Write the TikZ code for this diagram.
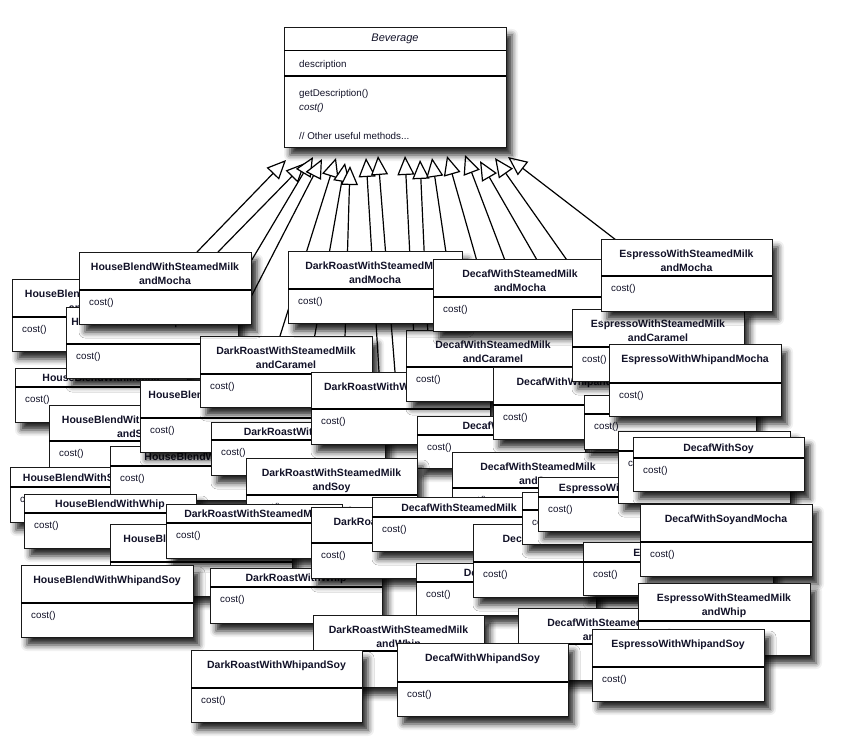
\documentclass[tikz,border=0pt]{standalone}
\usepackage{fontspec}
\setmainfont{Liberation Sans}
\usetikzlibrary{arrows.meta,shadows.blur,calc}

\definecolor{ink}{RGB}{18,18,40}
\definecolor{edge}{RGB}{25,25,25}

\pgfdeclarelayer{bg}
\pgfdeclarelayer{wires}
\pgfsetlayers{bg,wires,main}

\tikzset{
  softshadow/.style={blur shadow={shadow xshift=6pt, shadow yshift=-8pt,
    shadow blur radius=6pt, shadow opacity=85}},
  cls/.style={rectangle, draw=edge, line width=0.9pt, fill=white, anchor=north west,
    inner sep=0pt, outer sep=0pt, softshadow},
  divline/.style={draw=black, line width=1.4pt},
  ttl/.style={font=\fontsize{10.5}{14}\selectfont\bfseries, text=ink, align=center,
    inner sep=0pt, anchor=north},
  meth/.style={font=\fontsize{9.8}{12}\selectfont, text=ink, inner sep=0pt, anchor=west},
  inh/.style={line width=1.2pt, line join=miter,
    -{Triangle[length=19pt,width=17pt,fill=white]}},
}

% class box: name, x, y, width, height, header height, class name
\newcommand\umlbox[7]{%
  \node[cls, minimum width=#4pt, minimum height=#5pt] (#1) at (#2,#3) {};
  \draw[divline] ([yshift=-#6pt]#1.north west) -- ([yshift=-#6pt]#1.north east);
  \pgfmathsetmacro\ttloff{(#6<25) ? (#6/2-3.7) : 10.5}
  \node[ttl] (#1-title) at ([yshift=-\ttloff pt]#1.north) {#7};
  \node[meth] (#1-op) at ([xshift=10pt,yshift=-(#6+13)*1pt]#1.north west) {cost()};
}

\begin{document}
\begin{tikzpicture}[x=1pt,y=-1pt]
\useasboundingbox (0,0) rectangle (858,738);
\begin{pgfonlayer}{bg}
  \fill[white] (0,0) rectangle (858,738);
\end{pgfonlayer}
% a first shaded shape, placed off the page, sets up the shadow machinery
\node[cls, draw=none, fill=none, minimum width=4pt, minimum height=4pt] (warmup) at (-300,-300) {};

% subclasses, back to front
\umlbox{c5}{12}{279}{174}{72}{38}{HouseBlendWithSteamedMilk\\andCaramel}
\umlbox{c9}{15}{368}{172}{54}{19}{HouseBlendWithMocha}
\umlbox{c6}{66}{307}{172}{71}{37}{HouseBlendWithWhipandMocha}
\umlbox{c10}{49}{405}{174}{72}{36}{HouseBlendWithSteamedMilk\\andSoy}
\umlbox{c38}{10}{467}{174}{55}{20}{HouseBlendWithSteamedMilk}
\umlbox{c45}{110}{446}{172}{54}{20}{HouseBlendWithSoy}
\umlbox{c37}{24}{494}{172}{54}{19}{HouseBlendWithWhip}
\umlbox{c8}{140}{380}{172}{72}{38}{HouseBlendWithMochaandSoy}
\umlbox{c7}{200}{336}{172}{71}{38}{DarkRoastWithSteamedMilk\\andCaramel}
\umlbox{c11}{211}{422}{174}{53}{18}{DarkRoastWithMocha}
\umlbox{c12}{311}{372}{179}{72}{37}{DarkRoastWithWhipandMocha}
\umlbox{c13}{406}{330}{174}{71}{37}{DecafWithSteamedMilk\\andCaramel}
\umlbox{c20}{417}{416}{168}{52}{19}{DecafWithWhip}
\umlbox{c14}{493}{367}{176}{72}{38}{DecafWithWhipandMocha}
\umlbox{c21}{452}{452}{172}{72}{36}{DecafWithSteamedMilk\\andSoy}
\umlbox{c36}{110}{524}{182}{72}{38}{HouseBlendWithSoyandMocha}
\umlbox{c34}{246}{458}{171}{72}{37}{DarkRoastWithSteamedMilk\\andSoy}
\umlbox{c35}{166}{504}{176}{54}{19}{DarkRoastWithSteamedMilk}
\umlbox{c39}{21}{565}{172}{72}{38}{HouseBlendWithWhipandSoy}
\umlbox{c40}{210}{568}{172}{55}{19}{DarkRoastWithWhip}
\umlbox{c33}{311}{507}{184}{71}{36}{DarkRoastWithSoyandWhip}
\umlbox{c31}{372}{497}{174}{54}{20}{DecafWithSteamedMilk}
\umlbox{c29}{416}{563}{180}{52}{19}{DecafWithMocha}
\umlbox{c30}{473}{524}{174}{73}{38}{DecafWithSoyandWhip}
\umlbox{c32}{522}{492}{172}{52}{18}{DecafWithMochaandSoy}
\umlbox{c22}{538}{477}{176}{54}{20}{EspressoWithSteamedMilk}
\umlbox{c19}{584}{395}{172}{54}{19}{EspressoWithMocha}
\umlbox{c18}{618}{431}{172}{72}{20}{EspressoWithWhip}
\umlbox{c17}{633}{437}{171}{54}{21}{DecafWithSoy}
\umlbox{c23}{583}{542}{190}{53}{20}{EspressoWithSoy}
\umlbox{c24}{640}{504}{172}{72}{38}{DecafWithSoyandMocha}
\umlbox{c27}{518}{608}{174}{72}{36}{DecafWithSteamedMilk\\andWhip}
\umlbox{c25}{638}{583}{172}{72}{38}{EspressoWithSteamedMilk\\andWhip}
\umlbox{c26}{592}{629}{172}{72}{38}{EspressoWithWhipandSoy}
\umlbox{c41}{313}{615}{171}{72}{36}{DarkRoastWithSteamedMilk\\andWhip}
\umlbox{c42}{191}{650}{171}{72}{38}{DarkRoastWithWhipandSoy}
\umlbox{c43}{397}{643}{171}{73}{39}{DecafWithWhipandSoy}
\umlbox{c1}{79}{252}{172}{72}{38}{HouseBlendWithSteamedMilk\\andMocha}
\umlbox{c2}{288}{251}{174}{72}{38}{DarkRoastWithSteamedMilk\\andMocha}
\umlbox{c3}{433}{259}{174}{72}{38}{DecafWithSteamedMilk\\andMocha}
\umlbox{c15}{572}{309}{172}{72}{38}{EspressoWithSteamedMilk\\andCaramel}
\umlbox{c4}{601}{239}{171}{72}{37}{EspressoWithSteamedMilk\\andMocha}
\umlbox{c16}{609}{344}{172}{72}{39}{EspressoWithWhipandMocha}

% the abstract superclass
\node[cls, minimum width=222pt, minimum height=120pt] (bev) at (284,27) {};
\draw[line width=1pt] ([yshift=-24pt]bev.north west) -- ([yshift=-24pt]bev.north east);
\draw[line width=1.2pt] ([yshift=-49pt]bev.north west) -- ([yshift=-49pt]bev.north east);
\node[font=\fontsize{11}{13}\selectfont\itshape, text=ink, inner sep=0pt] (bev-title) at ([yshift=-11.5pt]bev.north) {Beverage};
\node[meth] (bev-attr) at ([xshift=15pt,yshift=-38pt]bev.north west) {description};
\node[meth] (bev-m1) at ([xshift=15pt,yshift=-67pt]bev.north west) {getDescription()};
\node[meth, font=\fontsize{9.8}{12}\selectfont\itshape] (bev-m2) at ([xshift=15pt,yshift=-81pt]bev.north west) {cost()};
\node[meth] (bev-m3) at ([xshift=15pt,yshift=-109pt]bev.north west) {// Other useful methods...};

% inheritance arrows, kept behind the boxes
\begin{pgfonlayer}{wires}
\draw[inh] ([xshift=118pt]c1.north west) -- ([xshift=2pt,yshift=-13pt]bev.south west);
\draw[inh] ([xshift=139pt]c1.north west) -- ([xshift=21pt,yshift=-16pt]bev.south west);
\draw[inh] ([xshift=149pt,yshift=-48pt]c1.north west) -- ([xshift=29pt,yshift=-10pt]bev.south west);
\draw[inh] ([xshift=168pt,yshift=-23pt]c6.north west) -- ([xshift=38pt,yshift=-12pt]bev.south west);
\draw[inh] ([xshift=80pt]c7.north west) -- ([xshift=52pt,yshift=-11pt]bev.south west);
\draw[inh] ([xshift=107pt,yshift=-44pt]c7.north west) -- ([xshift=61pt,yshift=-16pt]bev.south west);
\draw[inh] ([xshift=33pt]c12.north west) -- ([xshift=66pt,yshift=-19pt]bev.south west);
\draw[inh] ([xshift=68pt]c12.north west) -- ([xshift=82pt,yshift=-11pt]bev.south west);
\draw[inh] ([xshift=84pt]c12.north west) -- ([xshift=94pt,yshift=-9pt]bev.south west);
\draw[inh] ([xshift=10pt,yshift=-50pt]c13.north west) -- ([xshift=121pt,yshift=-9pt]bev.south west);
\draw[inh] ([xshift=24pt,yshift=-50pt]c13.north west) -- ([xshift=136pt,yshift=-13pt]bev.south west);
\draw[inh] ([xshift=20pt,yshift=-41pt]c3.north west) -- ([xshift=148pt,yshift=-11pt]bev.south west);
\draw[inh] ([xshift=55pt,yshift=-41pt]c3.north west) -- ([xshift=163pt,yshift=-9pt]bev.south west);
\draw[inh] ([xshift=87pt,yshift=-41pt]c3.north west) -- ([xshift=181pt,yshift=-8pt]bev.south west);
\draw[inh] ([xshift=127pt,yshift=-41pt]c3.north west) -- ([xshift=196pt,yshift=-14pt]bev.south west);
\draw[inh] ([xshift=162pt,yshift=-41pt]c3.north west) -- ([xshift=211pt,yshift=-11pt]bev.south west);
\draw[inh] ([xshift=41pt,yshift=-21pt]c4.north west) -- ([xshift=224pt,yshift=-10pt]bev.south west);
\end{pgfonlayer}
\end{tikzpicture}
\end{document}
